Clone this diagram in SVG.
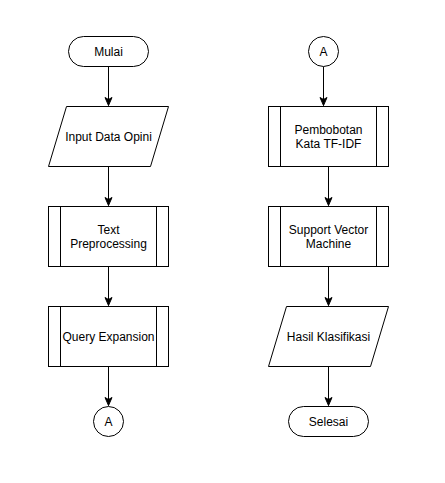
<svg xmlns="http://www.w3.org/2000/svg" width="445" height="483" viewBox="0 0 445 483">
<style>
.s{fill:#fff;stroke:#000;stroke-width:1}
.l{fill:none;stroke:#000;stroke-width:1}
text{font-family:"Liberation Sans",Arial,sans-serif;font-size:12px;fill:#000;text-anchor:middle}
</style>
<defs>
<marker id="ar" markerUnits="userSpaceOnUse" markerWidth="10" markerHeight="10" viewBox="0 0 10 10" refX="9" refY="5" orient="auto">
<path d="M1,1.5 L9,5 L1,8.5 L3,5 Z" fill="#000" stroke="#000" stroke-width="1"/>
</marker>
</defs>
<rect width="445" height="483" fill="#fff"/>
<g id="connectors">
<line class="l" x1="108.5" y1="66.5" x2="108.5" y2="105.5" marker-end="url(#ar)"/>
<line class="l" x1="108.5" y1="166.5" x2="108.5" y2="205.5" marker-end="url(#ar)"/>
<line class="l" x1="108.5" y1="266.5" x2="108.5" y2="305.5" marker-end="url(#ar)"/>
<line class="l" x1="108.5" y1="366.5" x2="108.5" y2="405.5" marker-end="url(#ar)"/>
<line class="l" x1="323.5" y1="66.5" x2="323.5" y2="105.5" marker-end="url(#ar)"/>
<line class="l" x1="328.5" y1="166.5" x2="328.5" y2="205.5" marker-end="url(#ar)"/>
<line class="l" x1="328.5" y1="266.5" x2="328.5" y2="305.5" marker-end="url(#ar)"/>
<line class="l" x1="328.5" y1="366.5" x2="328.5" y2="405.5" marker-end="url(#ar)"/>
</g>
<g id="mulai">
<rect class="s" x="68.5" y="36.5" width="80" height="30" rx="15" ry="15"/>
<text x="108.5" y="55.5">Mulai</text>
</g>
<g id="input">
<path class="s" d="M66.5,106.5 L168.5,106.5 L150.5,166.5 L48.5,166.5 Z"/>
<text x="108.5" y="140.5">Input Data Opini</text>
</g>
<g id="preprocessing">
<rect class="s" x="48.5" y="206.5" width="120" height="60"/>
<line class="l" x1="60.5" y1="206.5" x2="60.5" y2="266.5"/>
<line class="l" x1="156.5" y1="206.5" x2="156.5" y2="266.5"/>
<text x="108.5" y="234">Text</text>
<text x="108.5" y="248">Preprocessing</text>
</g>
<g id="query">
<rect class="s" x="48.5" y="306.5" width="120" height="60"/>
<line class="l" x1="60.5" y1="306.5" x2="60.5" y2="366.5"/>
<line class="l" x1="156.5" y1="306.5" x2="156.5" y2="366.5"/>
<text x="108.5" y="340.5">Query Expansion</text>
</g>
<g id="connA1">
<circle class="s" cx="108.5" cy="421.5" r="15"/>
<text x="108.5" y="425.5">A</text>
</g>
<g id="connA2">
<circle class="s" cx="323.5" cy="51.5" r="15"/>
<text x="323.5" y="55.5">A</text>
</g>
<g id="tfidf">
<rect class="s" x="268.5" y="106.5" width="120" height="60"/>
<line class="l" x1="280.5" y1="106.5" x2="280.5" y2="166.5"/>
<line class="l" x1="376.5" y1="106.5" x2="376.5" y2="166.5"/>
<text x="328.5" y="134">Pembobotan</text>
<text x="328.5" y="148">Kata TF-IDF</text>
</g>
<g id="svm">
<rect class="s" x="268.5" y="206.5" width="120" height="60"/>
<line class="l" x1="280.5" y1="206.5" x2="280.5" y2="266.5"/>
<line class="l" x1="376.5" y1="206.5" x2="376.5" y2="266.5"/>
<text x="328.5" y="234">Support Vector</text>
<text x="328.5" y="248">Machine</text>
</g>
<g id="hasil">
<path class="s" d="M286.5,306.5 L388.5,306.5 L370.5,366.5 L268.5,366.5 Z"/>
<text x="328.5" y="340.5">Hasil Klasifikasi</text>
</g>
<g id="selesai">
<rect class="s" x="288.5" y="406.5" width="80" height="30" rx="15" ry="15"/>
<text x="328.5" y="425.5">Selesai</text>
</g>
</svg>
